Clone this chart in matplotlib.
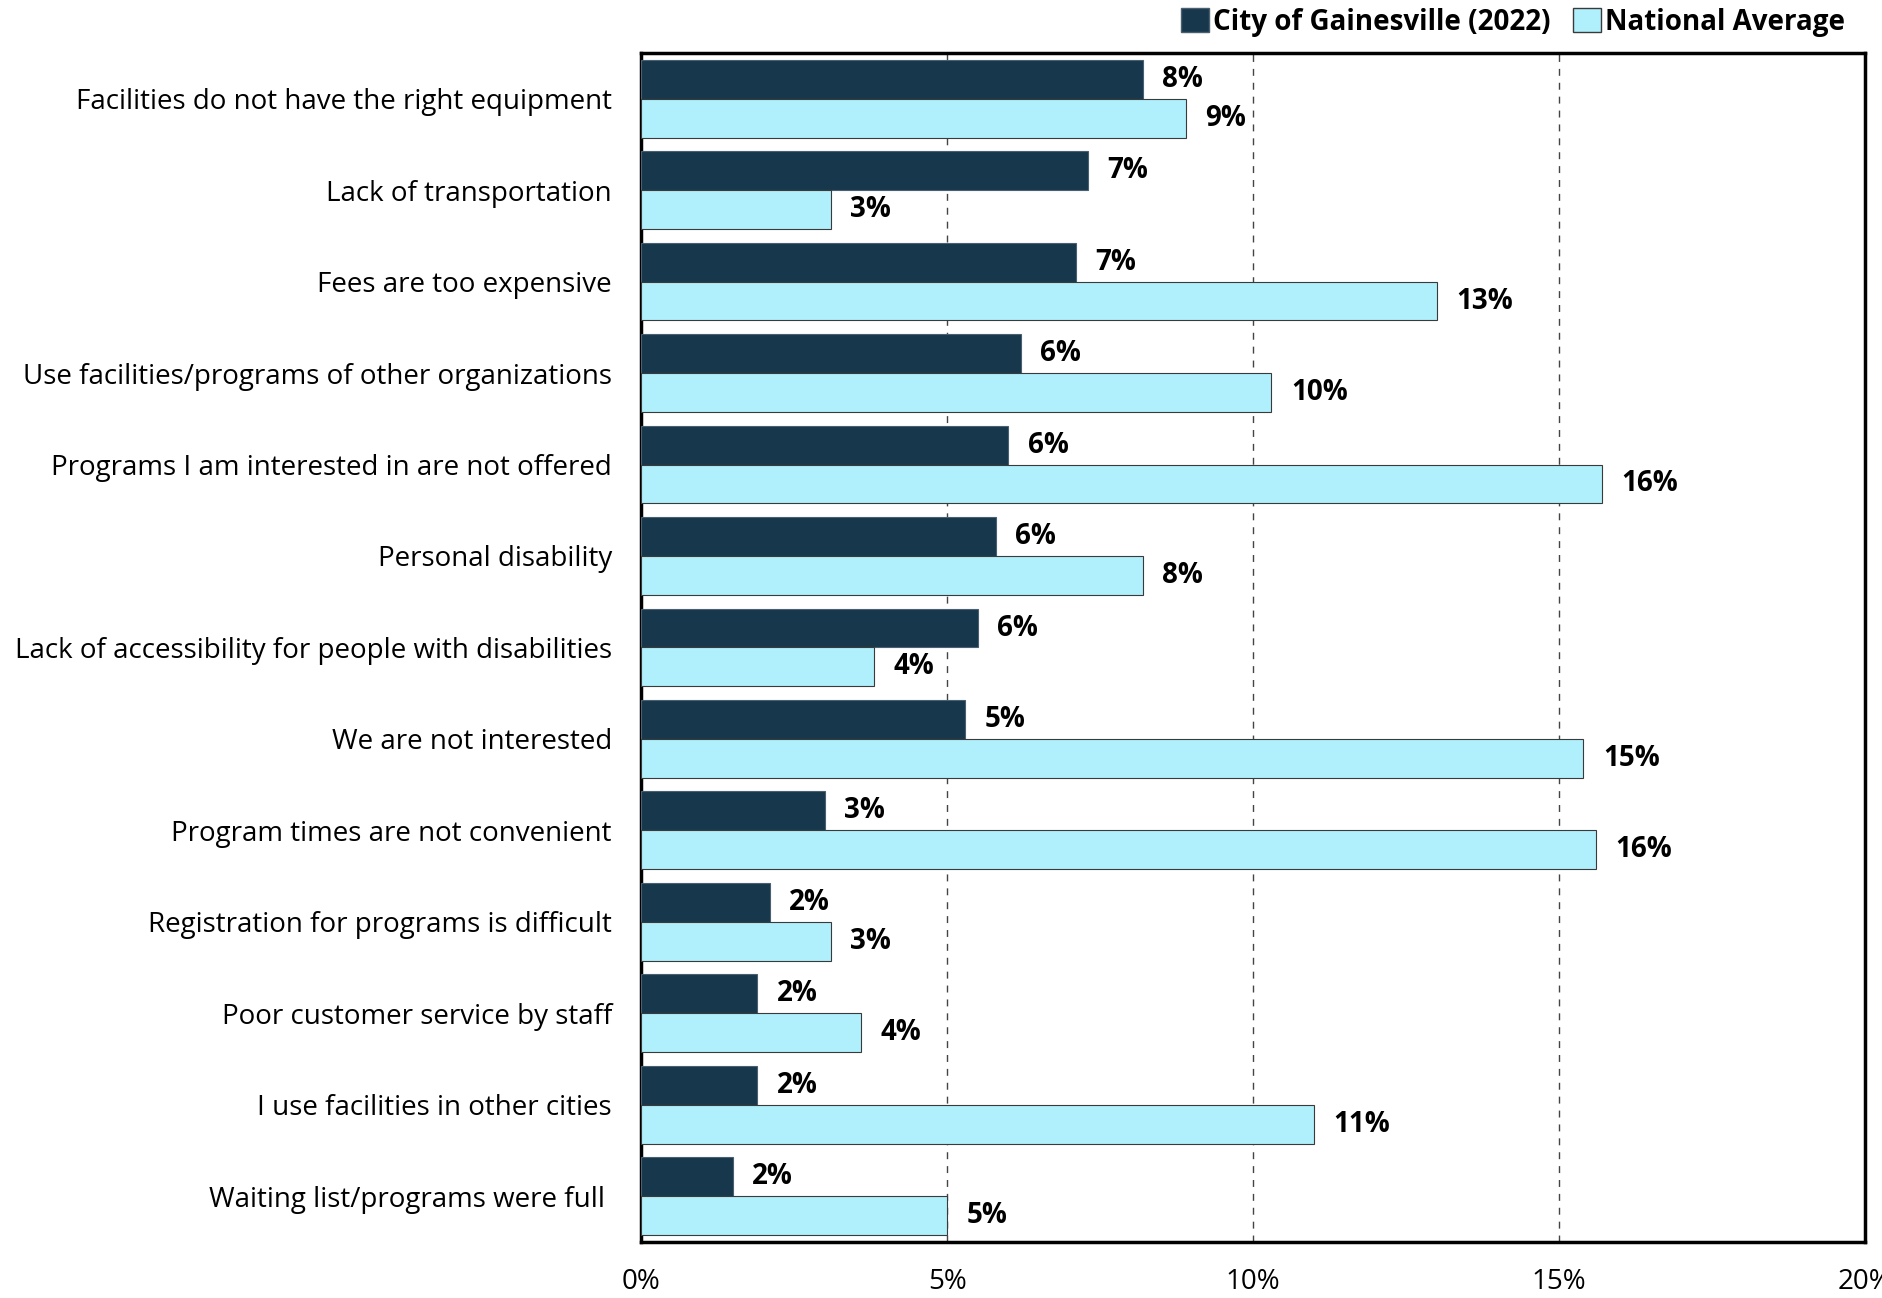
import numpy as np
import matplotlib.pyplot as plt
from matplotlib.patches import Patch

# --- Data ---
categories = [
    "Facilities do not have the right equipment",
    "Lack of transportation",
    "Fees are too expensive",
    "Use facilities/programs of other organizations",
    "Programs I am interested in are not offered",
    "Personal disability",
    "Lack of accessibility for people with disabilities",
    "We are not interested",
    "Program times are not convenient",
    "Registration for programs is difficult",
    "Poor customer service by staff",
    "I use facilities in other cities",
    "Waiting list/programs were full ",
]
gainesville = [8.2, 7.3, 7.1, 6.2, 6.0, 5.8, 5.5, 5.3, 3.0, 2.1, 1.9, 1.9, 1.5]
national = [8.9, 3.1, 13.0, 10.3, 15.7, 8.2, 3.8, 15.4, 15.6, 3.1, 3.6, 11.0, 5.0]
xticks = [0, 5, 10, 15, 20]
series_names = ["City of Gainesville (2022)", "National Average"]

dark = "#17374c"
light = "#b0effc"

plt.rcParams['font.family'] = ['Open Sans', 'DejaVu Sans']

fig = plt.figure(figsize=(18.83, 12.98), dpi=100)
ax = fig.add_axes([0.3405, 0.0432, 0.6499, 0.916])

y = np.arange(len(categories))
h = 0.425
ax.barh(y - h / 2, gainesville, height=h, color=dark, edgecolor="#4a6070", linewidth=0.8, zorder=3)
ax.barh(y + h / 2, national, height=h, color=light, edgecolor="#3a3a3a", linewidth=0.8, zorder=3)

for yi, v in zip(y, gainesville):
    ax.annotate(f"{v:.0f}%", (v, yi - h / 2), xytext=(14, 0), textcoords="offset points",
                va="center", ha="left", fontsize=20, fontweight="bold")
for yi, v in zip(y, national):
    ax.annotate(f"{v:.0f}%", (v, yi + h / 2), xytext=(14, 0), textcoords="offset points",
                va="center", ha="left", fontsize=20, fontweight="bold")

ax.set_ylim(len(categories) - 0.5, -0.5)
ax.set_xlim(0, 20)
ax.set_yticks(y)
ax.set_yticklabels(categories, fontsize=20)
ax.set_xticks(xticks)
ax.set_xticklabels([f"{t}%" for t in xticks], fontsize=20)
ax.tick_params(axis="both", length=0)
ax.tick_params(axis="y", pad=21)
ax.tick_params(axis="x", pad=19)

for x in xticks[1:-1]:
    ax.axvline(x, color="#444444", linestyle=(0, (5, 5)), linewidth=1, zorder=1)

for s in ax.spines.values():
    s.set_linewidth(2.5)
    s.set_color("black")

handles = [Patch(facecolor=dark, edgecolor="#4a6070"), Patch(facecolor=light, edgecolor="#3a3a3a")]
fig.legend(handles, series_names, loc="center right", bbox_to_anchor=(0.993, 0.983),
           ncol=2, frameon=False, handlelength=1.0, handleheight=1.0, handletextpad=0.15,
           columnspacing=0.8, prop={"size": 20, "weight": "bold"})

fig.savefig("out.png", dpi=100)
